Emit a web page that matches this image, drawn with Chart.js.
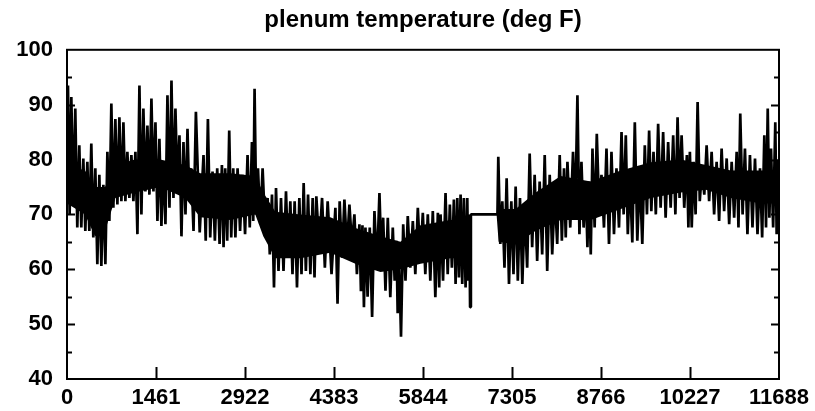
<!DOCTYPE html>
<html>
<head>
<meta charset="utf-8">
<script src="https://cdn.jsdelivr.net/npm/chart.js@4.4.1/dist/chart.umd.min.js"></script>
<style>
  html, body { margin: 0; padding: 0; background: #fff; }
  #wrap { width: 815px; height: 411px; }
</style>
</head>
<body>
<div id="wrap"><canvas id="grafico" width="815" height="411"></canvas></div>
<script>
// ==========================================
// 1. DADOS
// ==========================================

const xTicks = [0, 1461, 2922, 4383, 5844, 7305, 8766, 10227, 11688];
const yTicks = [40, 50, 60, 70, 80, 90, 100];

// envelope: posição (horas) de cada trecho
const horas = [
    16, 71, 136, 202, 268, 334, 399, 465, 531, 597, 663, 728, 794, 860, 926, 991,
    1057, 1123, 1189, 1254, 1320, 1386, 1452, 1517, 1583, 1649, 1715, 1780, 1846, 1912, 1978,
    2038, 2116, 2241, 2313, 2389, 2466, 2543, 2597, 2663, 2729, 2800, 2882, 2964, 3036, 3079,
    3135, 3211, 3293, 3365, 3431, 3513, 3595, 3666, 3737, 3814, 3885, 3957, 4033,
    4093, 4187, 4279, 4406, 4476, 4554, 4636, 4718, 4800, 4850, 4899, 4970, 5047, 5129, 5190,
    5266, 5348, 5409, 5447, 5519, 5594, 5677, 5759, 5841, 5923, 6005, 6088,
    6132, 6214, 6285, 6351, 6407, 6461, 6515, 6571, 6604, 6630, 7052, 7080, 7146, 7217, 7294,
    7365, 7436, 7513, 7595, 7677, 7759, 7842, 7924, 8006, 8088, 8159,
    8215, 8307, 8379, 8445, 8516, 8570, 8626, 8697, 8774, 8856, 8938, 9020, 9103, 9173, 9239,
    9321, 9403, 9485, 9556, 9628, 9704, 9786, 9868, 9951, 10023, 10089, 10176,
    10225, 10286, 10352, 10423, 10500, 10582, 10664, 10746, 10829, 10911, 10993, 11052, 11129,
    11211, 11294, 11376, 11447, 11503, 11557, 11627, 11672
];

// máximas de cada trecho (deg F)
const maximas = [
    93.5, 91.4, 89.3, 82.6, 80.2, 79.6, 82.9, 78.4, 77.2, 75.4, 81.4, 90.2, 87.4, 87.7, 86.8, 81.4,
    80.8, 81.4, 93.5, 89.3, 86.2, 91.1, 86.8, 83.8, 79.6, 91.7, 94.4, 89.3, 84.4, 83.2, 85.6,
    78.4, 88.7, 80.8, 87.4, 77.8, 78.4, 79.0, 78.4, 85.3, 78.4, 78.4, 77.2, 80.8, 83.2, 92.9,
    78.4, 78.4, 73.0, 73.6, 74.8, 73.0, 74.2, 72.4, 72.4, 73.0, 75.7, 73.6, 73.0,
    73.3, 73.0, 72.4, 71.2, 72.4, 72.7, 71.8, 70.0, 68.2, 68.0, 67.6, 67.6, 70.6, 73.9, 69.4,
    69.4, 67.6, 65.2, 64.0, 68.2, 69.7, 68.8, 71.2, 70.3, 70.0, 70.6, 70.3,
    70.0, 73.9, 71.8, 72.7, 73.0, 73.6, 73.0, 73.0, 70.0, 70.0, 70.0, 80.5, 72.4, 76.6, 72.4,
    75.1, 73.0, 71.2, 81.1, 77.2, 76.0, 80.8, 77.2, 73.6, 80.8, 78.4,
    79.6, 81.4, 91.7, 79.6, 75.4, 76.0, 82.0, 84.7, 77.2, 82.0, 81.4, 78.4, 85.0, 84.4, 77.2,
    86.8, 77.2, 82.6, 85.3, 81.4, 86.5, 85.0, 83.2, 84.4, 87.7, 84.4, 80.8,
    81.4, 79.6, 90.5, 78.4, 82.6, 81.4, 79.6, 82.0, 80.2, 79.6, 81.4, 88.4, 82.0,
    80.8, 80.2, 78.4, 84.4, 89.3, 82.0, 86.8, 80.0
];

// mínimas de cada trecho (deg F)
const minimas = [
    70.0, 71.8, 67.6, 67.6, 67.0, 67.0, 65.8, 60.9, 60.6, 60.9, 68.8, 71.2, 71.8, 72.4, 72.4, 73.0,
    72.4, 66.4, 70.0, 74.2, 73.6, 74.2, 68.8, 67.9, 68.2, 71.2, 73.0, 74.8, 66.0, 70.0, 72.4,
    67.0, 66.7, 65.2, 65.8, 65.2, 64.6, 64.0, 65.2, 65.8, 65.8, 67.0, 66.4, 67.6, 68.8, 70.0,
    68.2, 67.6, 62.7, 56.7, 59.7, 59.7, 62.1, 59.1, 56.7, 59.1, 59.7, 59.1, 58.5,
    64.0, 60.3, 59.1, 53.7, 62.1, 63.9, 64.6, 59.1, 56.0, 53.1, 55.0, 51.3, 60.3, 62.7, 56.1,
    54.9, 57.9, 52.0, 47.7, 57.9, 60.3, 59.1, 61.5, 59.1, 57.9, 54.9, 56.7,
    57.9, 59.1, 60.3, 57.3, 58.5, 57.3, 56.7, 57.9, 53.1, 70.0, 70.0, 64.6, 60.3, 57.3, 59.1,
    57.9, 57.3, 60.3, 64.0, 61.5, 62.7, 59.7, 62.7, 64.6, 65.2, 65.8,
    67.6, 70.0, 66.4, 67.6, 64.0, 62.7, 67.6, 71.2, 67.6, 64.6, 66.4, 67.6, 70.0, 66.4, 64.9,
    65.2, 64.6, 70.0, 70.6, 70.0, 71.2, 69.4, 71.2, 70.0, 73.0, 71.2, 67.6,
    67.6, 70.0, 72.4, 73.6, 72.4, 70.0, 68.8, 70.6, 68.2, 69.4, 67.6, 70.0, 66.4,
    67.6, 66.4, 65.8, 67.6, 69.4, 67.6, 66.4, 70.0
];

// núcleo denso (faixa toda preta) da curva
const horasNucleo = [
    0, 296, 460, 625, 794, 1118, 1529, 1940, 2186, 2680, 3091, 3222, 3419, 3830, 4323, 4734,
    5145, 5474, 5803, 6296, 6592, 6630, 7052, 7085, 7365, 7694, 8105, 8598, 9091, 9584, 10077,
    10488, 10899, 11392, 11688
];
const nucleoAlto = [
    79, 78, 75, 75, 79, 80, 80, 79, 77.5, 77.5, 77, 74, 70.5, 70, 69.5, 67.5,
    66, 65, 68, 69, 69, 70, 70, 71, 71, 74, 77, 76, 78, 79.5, 80,
    79, 78, 78, 78
];
const nucleoBaixo = [
    72, 70, 66, 67, 73, 74, 75, 73, 69.5, 69, 70, 66, 62, 62, 63, 61,
    59.5, 60, 61, 62, 62, 70, 70, 65, 64.5, 67, 69, 69, 71, 73, 74,
    74.5, 73, 72, 72
];

// ==========================================
// 2. SÉRIES
// ==========================================

// máxima no trecho, mínima logo depois (dá o aspecto serrilhado)
const pontos = [];
horas.forEach((h, i) => {
    pontos.push({ x: h, y: maximas[i] });
    const prox = i < horas.length - 1 ? horas[i + 1] : 11688;
    pontos.push({ x: (h + prox) / 2, y: minimas[i] });
});

const serieNucleoAlto = horasNucleo.map((h, i) => ({ x: h, y: nucleoAlto[i] }));
const serieNucleoBaixo = horasNucleo.map((h, i) => ({ x: h, y: nucleoBaixo[i] }));

// moldura e marcas para dentro, como no gráfico original
const molduraPlugin = {
    id: "moldura",
    afterDraw(chart) {
        const c = chart.ctx;
        const a = chart.chartArea;
        const sx = chart.scales.x;
        const sy = chart.scales.y;
        c.save();
        c.strokeStyle = "#000";
        c.lineWidth = 2;
        c.strokeRect(a.left, a.top, a.right - a.left, a.bottom - a.top);
        c.beginPath();
        for (let v = 45; v < 100; v += 5) {
            const py = Math.round(sy.getPixelForValue(v)) + 0.5;
            const len = v % 10 === 0 ? 8 : 5;
            c.moveTo(a.left, py); c.lineTo(a.left + len, py);
            c.moveTo(a.right, py); c.lineTo(a.right - len, py);
        }
        xTicks.slice(1, -1).forEach((v) => {
            const px = Math.round(sx.getPixelForValue(v)) + 0.5;
            c.moveTo(px, a.bottom); c.lineTo(px, a.bottom - 12);
        });
        c.stroke();
        c.restore();
    },
};

// ==========================================
// 3. GRÁFICO
// ==========================================

Chart.defaults.font.family = "'Liberation Sans', Arial, sans-serif";
Chart.defaults.font.weight = "bold";
Chart.defaults.color = "#000";

const ctx = document.getElementById("grafico").getContext("2d");
const grafico = new Chart(ctx, {
    type: "line",
    data: {
        datasets: [
            {
                data: pontos,
                borderColor: "#000",
                borderWidth: 2.7,
                borderJoinStyle: "bevel",
                pointRadius: 0,
                tension: 0,
                fill: false,
            },
            {
                data: serieNucleoAlto,
                borderColor: "#000",
                backgroundColor: "#000",
                borderWidth: 0,
                pointRadius: 0,
                tension: 0,
                fill: "+1",
            },
            {
                data: serieNucleoBaixo,
                borderColor: "#000",
                borderWidth: 0,
                pointRadius: 0,
                tension: 0,
                fill: false,
            },
        ],
    },
    options: {
        responsive: false,
        animation: false,
        layout: { padding: { top: 0, right: 36, bottom: 0, left: 0 } },
        plugins: {
            legend: { display: false },
            tooltip: { enabled: false },
            title: {
                display: true,
                fullSize: false,
                text: "plenum temperature (deg F)",
                font: { size: 24, weight: "bold" },
                padding: { top: 6, bottom: 15 },
            },
        },
        scales: {
            x: {
                type: "linear",
                min: 0,
                max: 11688,
                grid: { display: false, drawTicks: false },
                border: { display: false },
                afterBuildTicks: (s) => { s.ticks = xTicks.map((v) => ({ value: v })); },
                afterFit: (s) => { s.height = 32; },
                ticks: {
                    autoSkip: false,
                    maxRotation: 0,
                    padding: 6,
                    font: { size: 22, weight: "bold" },
                    callback: (v) => String(v),
                },
            },
            y: {
                min: 40,
                max: 100,
                grid: { display: false, drawTicks: false },
                border: { display: false },
                afterBuildTicks: (s) => { s.ticks = yTicks.map((v) => ({ value: v })); },
                afterFit: (s) => { s.width = 67; },
                ticks: {
                    padding: 14,
                    font: { size: 22, weight: "bold" },
                    callback: (v) => String(v),
                },
            },
        },
    },
    plugins: [molduraPlugin],
});
</script>
</body>
</html>
